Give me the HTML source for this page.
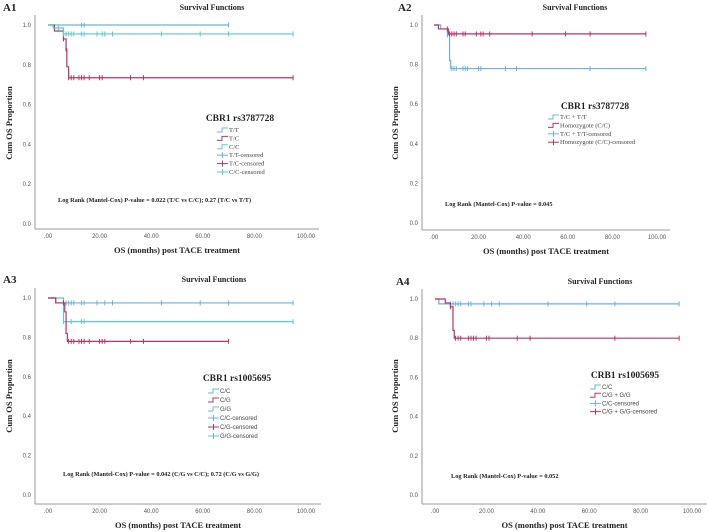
<!DOCTYPE html>
<html><head><meta charset="utf-8"><style>
body{margin:0;background:#fff;}
svg{display:block;}
.tk{font-family:"Liberation Sans",sans-serif;font-size:6px;fill:#555;}
.ttl{font-family:"Liberation Serif",serif;font-weight:bold;font-size:8px;fill:#222;}
.ax{font-family:"Liberation Serif",serif;font-weight:bold;font-size:8.5px;fill:#222;}
.lt{font-family:"Liberation Serif",serif;font-size:9.5px;fill:#222;font-weight:bold;}
.le{font-family:"Liberation Sans",sans-serif;font-size:6px;fill:#444;}
.lef{font-family:"Liberation Serif",serif;font-size:6.5px;fill:#444;}
.pv{font-family:"Liberation Serif",serif;font-weight:bold;font-size:6.3px;fill:#222;}
.pl{font-family:"Liberation Serif",serif;font-weight:bold;font-size:11px;fill:#222;}
</style></head><body>
<svg id="c" width="709" height="532" viewBox="0 0 709 532" xmlns="http://www.w3.org/2000/svg"></svg>
<script>
const BLUE="#6ab4dc",TEAL="#5ccaca",RED="#b63466";
const xTicks=[0,20,40,60,80,100];
const xTickLabels=[".00","20.00","40.00","60.00","80.00","100.00"];
const yTicks=[0,0.2,0.4,0.6,0.8,1.0];
const yTickLabels=["0.0","0.2","0.4","0.6","0.8","1.0"];
// A1
const a1TTsteps=[[0,1.0]];const a1TTend=70;const a1TTcens=[13,14,70];
const a1TCsteps=[[0,1.0],[2.5,0.97],[6,0.93],[7,0.88],[7.3,0.79],[8,0.735]];const a1TCend=95;const a1TCcens=[6,7,8,9,10,12,13,14,16,20,21,32,37,95];
const a1CCsteps=[[0,1.0],[2,0.985],[6,0.955]];const a1CCend=95;const a1CCcens=[4,6,7,8,9,10,13,14,19,21,22,25,44,59,70,95];
// A2
const a2Bsteps=[[0,1.0],[3,0.98],[6,0.95],[7,0.82],[7.5,0.78]];const a2Bend=95;const a2Bcens=[6,8,9,10,13,14,15,20,21,32,37,70,95];
const a2Rsteps=[[0,1.0],[2,0.98],[6.5,0.955]];const a2Rend=95;const a2Rcens=[6,7,8,9,10,13,14,19,21,22,25,44,59,70,95];
// A3
const a3CCsteps=[[0,1.0],[3,0.975]];const a3CCend=95;const a3CCcens=[6,7,8,9,10,13,14,19,22,25,44,59,70,95];
const a3GGsteps=[[0,1.0],[6,0.88]];const a3GGend=95;const a3GGcens=[6,7,9,13,14,95];
const a3CGsteps=[[0,1.0],[3,0.975],[6.5,0.93],[7,0.82],[7.5,0.78]];const a3CGend=70;const a3CGcens=[6,8,9,10,12,13,14,16,20,21,22,32,37,70];
// A4
const a4Bsteps=[[0,1.0],[1.5,0.975]];const a4Bend=95;const a4Bcens=[6,7,8,9,10,13,14,19,22,25,44,59,70,95];
const a4Rsteps=[[0,1.0],[4,0.98],[6,0.96],[7,0.84],[7.5,0.80]];const a4Rend=95;const a4Rcens=[6,8,9,10,13,14,15,16,20,21,32,37,70,95];

const NS="http://www.w3.org/2000/svg";
const svg=document.getElementById('c');
function mk(t,a,p){const e=document.createElementNS(NS,t);for(const k in a)e.setAttribute(k,a[k]);(p||svg).appendChild(e);return e;}

const panels=[
 {id:"a1",lab:"A1",lx:3,ly:11,ax:35,top:15,bot:229,x0:48,x1:306,xe:319,y0:224,y1:25,tx:212,ty:10,ytx:12,yty:123,
  series:[["tt",a1TTsteps,a1TTend,a1TTcens,BLUE],["tc",a1TCsteps,a1TCend,a1TCcens,RED],["cc",a1CCsteps,a1CCend,a1CCcens,TEAL]],
  lt:"CBR1 rs3787728",ltx:240,lty:121,lix:217,liy:130,ld:8.4,lf:"lef",
  leg:[["T/T",BLUE,0],["T/C",RED,0],["C/C",TEAL,0],["T/T-censored",BLUE,1],["T/C-censored",RED,1],["C/C-censored",TEAL,1]],
  pv:"Log Rank (Mantel-Cox) P-value = 0.022 (T/C vs C/C); 0.27 (T/C vs T/T)",pvx:58,pvy:202},
 {id:"a2",lab:"A2",lx:398,ly:11,ax:422,top:15,bot:230,x0:434,x1:657,xe:670,y0:223,y1:25,tx:575,ty:10,ytx:398,yty:123,
  series:[["tc-tt",a2Bsteps,a2Bend,a2Bcens,BLUE],["cc",a2Rsteps,a2Rend,a2Rcens,RED]],
  lt:"CBR1 rs3787728",ltx:595,lty:109,lix:548,liy:117,ld:8.4,lf:"lef",
  leg:[["T/C + T/T",BLUE,0],["Homozygote (C/C)",RED,0],["T/C + T/T-censored",BLUE,1],["Homozygote (C/C)-censored",RED,1]],
  pv:"Log Rank (Mantel-Cox) P-value = 0.045",pvx:445,pvy:206},
 {id:"a3",lab:"A3",lx:3,ly:283,ax:35,top:288,bot:504,x0:48,x1:306,xe:321,y0:495,y1:298,tx:214,ty:282,ytx:12,yty:396,
  series:[["cc",a3CCsteps,a3CCend,a3CCcens,BLUE],["gg",a3GGsteps,a3GGend,a3GGcens,TEAL],["cg",a3CGsteps,a3CGend,a3CGcens,RED]],
  lt:"CBR1 rs1005695",ltx:237,lty:381,lix:208,liy:391,ld:9,lf:"le",
  leg:[["C/C",BLUE,0],["C/G",RED,0],["G/G",TEAL,0],["C/C-censored",BLUE,1],["C/G-censored",RED,1],["G/G-censored",TEAL,1]],
  pv:"Log Rank (Mantel-Cox) P-value = 0.042 (C/G vs C/C); 0.72 (C/G vs G/G)",pvx:63,pvy:476},
 {id:"a4",lab:"A4",lx:396,ly:285,ax:422,top:289,bot:504,x0:435,x1:692,xe:707,y0:495,y1:299,tx:600,ty:284,ytx:398,yty:396,
  series:[["cc",a4Bsteps,a4Bend,a4Bcens,BLUE],["cg-gg",a4Rsteps,a4Rend,a4Rcens,RED]],
  lt:"CRB1 rs1005695",ltx:625,lty:378,lix:590,liy:387,ld:8.2,lf:"le",
  leg:[["C/C",BLUE,0],["C/G + G/G",RED,0],["C/C-censored",BLUE,1],["C/G + G/G-censored",RED,1]],
  pv:"Log Rank (Mantel-Cox) P-value = 0.052",pvx:451,pvy:478}
];

panels.forEach(P=>{
 const g=mk('g',{});
 
 
 const X=v=>P.x0+(P.x1-P.x0)*v/100, Y=v=>P.y0+(P.y1-P.y0)*v;
 let t=mk('text',{x:P.lx,y:P.ly,class:"pl"},g);t.textContent=P.lab;
 
 t=mk('text',{x:P.tx,y:P.ty,class:"ttl","text-anchor":"middle"},g);t.textContent="Survival Functions";
 
 let l=mk('line',{x1:P.ax,y1:P.top,x2:P.ax,y2:P.bot,stroke:"#999","stroke-width":1},g);
 
 l=mk('line',{x1:P.ax,y1:P.bot,x2:P.xe,y2:P.bot,stroke:"#999","stroke-width":1},g);
 
 yTicks.forEach((v,i)=>{const e=mk('text',{x:P.ax-4,y:Y(v)+2,class:"tk","text-anchor":"end"},g);e.textContent=yTickLabels[i];
  });
 xTicks.forEach((v,i)=>{const e=mk('text',{x:X(v),y:P.bot+9,class:"tk","text-anchor":"middle"},g);e.textContent=xTickLabels[i];
  });
 t=mk('text',{x:(P.ax+P.xe)/2,y:P.bot+24,class:"ax","text-anchor":"middle"},g);t.textContent="OS (months) post TACE treatment";
 
 t=mk('text',{x:P.ytx,y:P.yty,class:"ax","text-anchor":"middle",transform:`rotate(-90 ${P.ytx} ${P.yty})`},g);t.textContent="Cum OS Proportion";
 
 P.series.forEach(([nm,steps,end,cens,col])=>{
  let d=`M${X(steps[0][0])},${Y(steps[0][1])}`;
  for(let i=1;i<steps.length;i++){d+=` H${X(steps[i][0])} V${Y(steps[i][1])}`;}
  d+=` H${X(end)}`;
  const p=mk('path',{d:d,fill:"none",stroke:col,"stroke-width":1.2},g);
  
  cens.forEach(c=>{let s=steps[0][1];steps.forEach(q=>{if(q[0]<=c)s=q[1];});
   const m=mk('line',{x1:X(c),x2:X(c),y1:Y(s)-2.5,y2:Y(s)+2.5,stroke:col,"stroke-width":1},g);
   });
 });
 t=mk('text',{x:P.ltx,y:P.lty,class:"lt","text-anchor":"middle"},g);t.textContent=P.lt;
 
 P.leg.forEach(([txt,col,cz],i)=>{
  const y=P.liy+i*P.ld;
  const lg=mk('g',{},g);
  
  if(cz){mk('line',{x1:P.lix,x2:P.lix+11,y1:y,y2:y,stroke:col,"stroke-width":1},lg);mk('line',{x1:P.lix+5.5,x2:P.lix+5.5,y1:y-3,y2:y+3,stroke:col,"stroke-width":1},lg);}
  else mk('path',{d:`M${P.lix},${y+2} H${P.lix+5} V${y-2} H${P.lix+11}`,fill:"none",stroke:col,"stroke-width":1},lg);
  const e=mk('text',{x:P.lix+12,y:y+2,class:P.lf},lg);e.textContent=txt;
 });
 t=mk('text',{x:P.pvx,y:P.pvy,class:"pv"},g);t.textContent=P.pv;
 
});
</script>
</body></html>
